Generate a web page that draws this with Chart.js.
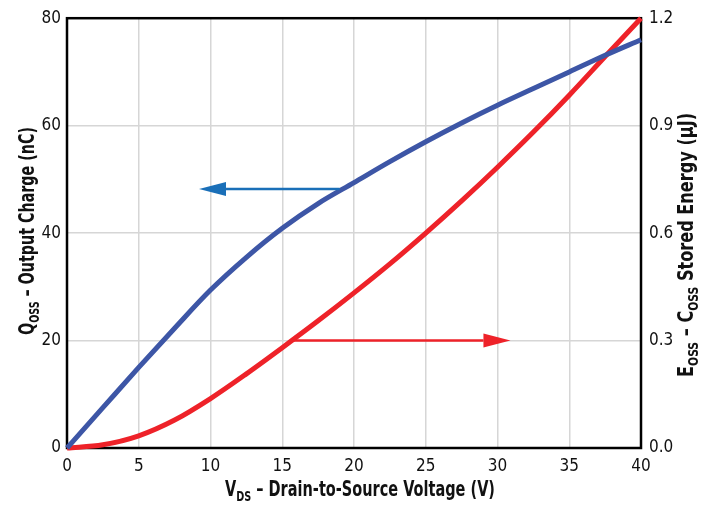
<!DOCTYPE html>
<html>
<head>
<meta charset="utf-8">
<script src="https://cdn.jsdelivr.net/npm/chart.js@4.4.1/dist/chart.umd.min.js"></script>
<style>
  html, body { margin: 0; padding: 0; background: #fff; }
  #wrap { width: 717px; height: 508px; }
</style>
</head>
<body>
<div id="wrap"><canvas id="chart" width="717" height="508"></canvas></div>
<script>
// values
const vds = [0, 2.5, 5, 7.5, 10, 12.5, 15, 17.5, 20, 22.5, 25, 27.5, 30, 32.5, 35, 37.5, 40];
const qoss = [0, 7.5, 15.0, 22.3, 29.4, 35.5, 40.9, 45.5, 49.4, 53.3, 57.0, 60.5, 63.8, 66.9, 70.0, 73.1, 76.0];
const eoss = [0, 0.009, 0.034, 0.078, 0.138, 0.207, 0.28, 0.355, 0.433, 0.514, 0.6, 0.69, 0.784, 0.882, 0.985, 1.093, 1.2];

const xTicks = [0, 5, 10, 15, 20, 25, 30, 35, 40];
const qTicks = [0, 20, 40, 60, 80];
const eTicks = [0, 0.3, 0.6, 0.9, 1.2];

// arrows: [from V, to V, level]
const qArrow = [19.0, 9.2, 48.2];
const eArrow = [15.6, 30.9, 0.3];

const BLUE = '#3d56a6';
const RED = '#ee2229';
const FONT = "'DejaVu Sans Condensed', 'DejaVu Sans', sans-serif";

function pts(ys) {
  return vds.map((v, i) => ({ x: v, y: ys[i] }));
}

// draws text runs (some subscript), squeezed to a given width
function drawRuns(ctx, runs, size, width) {
  const big = 'bold ' + size + 'px ' + FONT;
  const small = 'bold ' + Math.round(size * 0.68) + 'px ' + FONT;
  let total = 0;
  runs.forEach(r => { ctx.font = r[1] ? small : big; total += ctx.measureText(r[0]).width; });
  ctx.scale(width / total, 1);
  let x = -total / 2;
  runs.forEach(r => {
    ctx.font = r[1] ? small : big;
    ctx.fillText(r[0], x, r[1] ? size * 0.28 : 0);
    x += ctx.measureText(r[0]).width;
  });
}

function arrow(ctx, x0, x1, y, color) {
  const dir = x1 > x0 ? 1 : -1;
  const head = 27;
  ctx.save();
  ctx.strokeStyle = color;
  ctx.fillStyle = color;
  ctx.lineWidth = 2.5;
  ctx.beginPath();
  ctx.moveTo(x0, y);
  ctx.lineTo(x1 - dir * head, y);
  ctx.stroke();
  ctx.beginPath();
  ctx.moveTo(x1, y);
  ctx.lineTo(x1 - dir * head, y - 7);
  ctx.lineTo(x1 - dir * head, y + 7);
  ctx.closePath();
  ctx.fill();
  ctx.restore();
}

const extras = {
  id: 'extras',
  beforeDatasetsDraw(chart) {
    const { ctx, chartArea: a } = chart;
    ctx.save();
    ctx.strokeStyle = '#000';
    ctx.lineWidth = 2.5;
    ctx.strokeRect(a.left, a.top, a.right - a.left, a.bottom - a.top);
    ctx.restore();
  },
  afterDatasetsDraw(chart) {
    const { ctx, scales } = chart;
    const x = scales.x, y = scales.y, y1 = scales.y1;
    arrow(ctx, x.getPixelForValue(qArrow[0]), x.getPixelForValue(qArrow[1]), y.getPixelForValue(qArrow[2]), '#1a6fb8');
    arrow(ctx, x.getPixelForValue(eArrow[0]), x.getPixelForValue(eArrow[1]), y1.getPixelForValue(eArrow[2]), RED);
  },
  afterDraw(chart) {
    const { ctx } = chart;
    ctx.save();
    ctx.fillStyle = '#111';
    ctx.textBaseline = 'middle';
    ctx.textAlign = 'left';
    ctx.save();
    ctx.translate(360, 491);
    drawRuns(ctx, [['V', 0], ['DS', 1], [' \u2013 Drain-to-Source Voltage (V)', 0]], 21, 270);
    ctx.restore();
    ctx.save();
    ctx.translate(29, 231);
    ctx.rotate(-Math.PI / 2);
    drawRuns(ctx, [['Q', 0], ['OSS', 1], [' \u2013 Output Charge (nC)', 0]], 21, 208);
    ctx.restore();
    ctx.save();
    ctx.translate(688, 245);
    ctx.rotate(-Math.PI / 2);
    drawRuns(ctx, [['E', 0], ['OSS', 1], [' \u2013 C', 0], ['OSS', 1], [' Stored Energy (\u00b5J)', 0]], 21, 264);
    ctx.restore();
    ctx.restore();
  }
};

const gridStyle = { color: '#d6d6d6', lineWidth: 1.5, drawTicks: false };
const tickFont = { family: FONT, size: 17 };

new Chart(document.getElementById('chart').getContext('2d'), {
  type: 'line',
  data: {
    datasets: [
      { label: 'Qoss', data: pts(qoss), yAxisID: 'y', borderColor: BLUE, borderWidth: 5, pointRadius: 0, cubicInterpolationMode: 'monotone', clip: false },
      { label: 'Eoss', data: pts(eoss), yAxisID: 'y1', borderColor: RED, borderWidth: 5, pointRadius: 0, cubicInterpolationMode: 'monotone', clip: false }
    ]
  },
  options: {
    responsive: false,
    animation: false,
    layout: { padding: { top: 11, left: 0, right: 0, bottom: 0 } },
    plugins: { legend: { display: false }, tooltip: { enabled: false } },
    scales: {
      x: {
        type: 'linear', min: 0, max: 40,
        afterBuildTicks: s => { s.ticks = xTicks.map(v => ({ value: v })); },
        afterFit: s => { s.height = 60; },
        grid: gridStyle,
        border: { display: false },
        ticks: { color: '#111', font: tickFont, padding: 8, maxRotation: 0 }
      },
      y: {
        position: 'left', min: 0, max: 80,
        afterBuildTicks: s => { s.ticks = qTicks.map(v => ({ value: v })); },
        afterFit: s => { s.width = 67; },
        grid: gridStyle,
        border: { display: false },
        ticks: { color: '#111', font: tickFont, padding: 6 }
      },
      y1: {
        position: 'right', min: 0, max: 1.2,
        afterBuildTicks: s => { s.ticks = eTicks.map(v => ({ value: v })); },
        afterFit: s => { s.width = 76; },
        grid: { display: false, drawTicks: false },
        border: { display: false },
        ticks: { color: '#111', font: tickFont, padding: 8, callback: v => v.toFixed(1) }
      }
    }
  },
  plugins: [extras]
});
</script>
</body>
</html>
